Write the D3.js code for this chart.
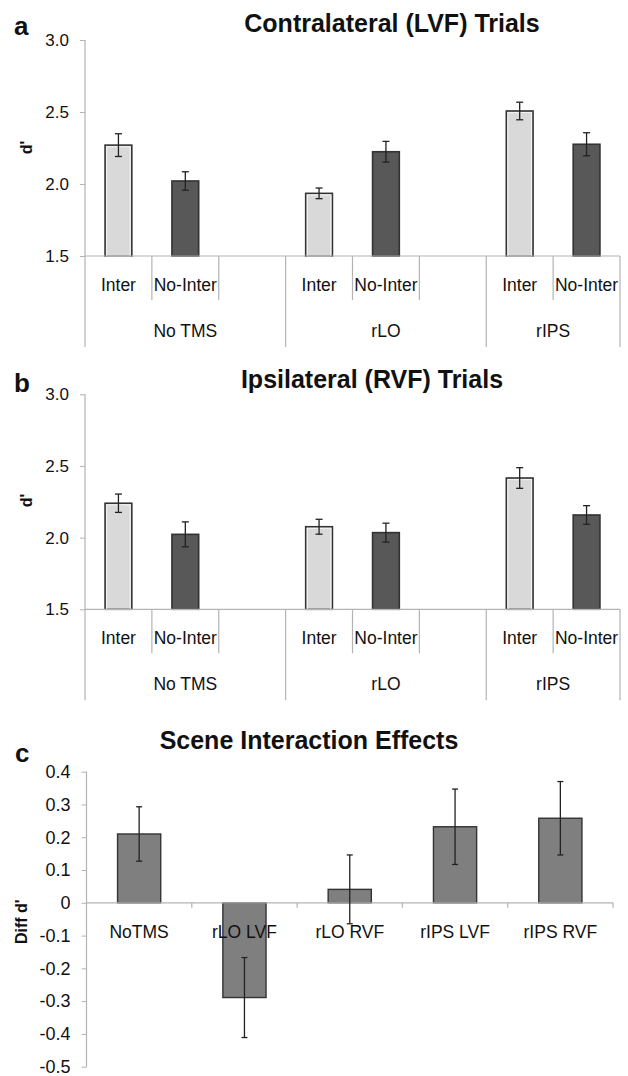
<!DOCTYPE html>
<html>
<head>
<meta charset="utf-8">
<script src="https://cdnjs.cloudflare.com/ajax/libs/d3/7.8.5/d3.min.js"></script>
<style>
  body { margin: 0; background: #fff; }
  text { font-family: "Liberation Sans", Arial, sans-serif; fill: #111; }
</style>
</head>
<body>
<div id="body"></div>
<script>
// panels a / b: groups and conditions
const groups = ["No TMS", "rLO", "rIPS"];
const conditions = ["Inter", "No-Inter"];

// Contralateral (LVF) trials
const contraInter = [2.27, 1.935, 2.507];
const contraInterErr = [0.079, 0.037, 0.061];
const contraNoInter = [2.021, 2.224, 2.276];
const contraNoInterErr = [0.064, 0.072, 0.08];

// Ipsilateral (RVF) trials
const ipsiInter = [2.24, 2.076, 2.416];
const ipsiInterErr = [0.064, 0.052, 0.072];
const ipsiNoInter = [2.023, 2.035, 2.158];
const ipsiNoInterErr = [0.087, 0.066, 0.065];

const dTicks = [1.5, 2.0, 2.5, 3.0];

// panel c
const effectLabels = ["NoTMS", "rLO LVF", "rLO RVF", "rIPS LVF", "rIPS RVF"];
const effectValues = [0.21, -0.289, 0.041, 0.232, 0.258];
const effectErr = [0.083, 0.122, 0.105, 0.115, 0.112];
const diffTicks = [-0.5, -0.4, -0.3, -0.2, -0.1, 0, 0.1, 0.2, 0.3, 0.4];

const W = 628, H = 1076;
const axisGray = "#b3b3b3";
const svg = d3.select("#body").append("svg").attr("width", W).attr("height", H);

function panelLetter(letter, x, y) {
	svg.append("text").attr("x", x).attr("y", y)
		.attr("font-size", 26).attr("font-weight", "bold").attr("fill", "#000").text(letter);
}
function panelTitle(title, cx, y) {
	svg.append("text").attr("x", cx).attr("y", y).attr("text-anchor", "middle")
		.attr("font-size", 25).attr("font-weight", "bold").attr("fill", "#111").text(title);
}
function yTitle(label, x, cy) {
	svg.append("text").attr("transform", "translate(" + x + "," + cy + ") rotate(-90)")
		.attr("text-anchor", "middle").attr("font-size", 16).attr("font-weight", "bold")
		.attr("fill", "#111").text(label);
}
function yAxis(scale, ticks, fmt, fontSize, x) {
	var g = svg.append("g").attr("transform", "translate(" + x + ",0)")
		.call(d3.axisLeft(scale).tickValues(ticks).tickFormat(fmt).tickSize(5).tickPadding(11));
	g.select(".domain").remove();
	g.selectAll(".tick line").attr("stroke", axisGray);
	g.selectAll(".tick text").attr("font-size", fontSize).attr("font-family", "Liberation Sans, Arial, sans-serif").attr("fill", "#111");
	return g;
}

// ---- panels a and b ----
function groupedPanel(opt) {
	var y = d3.scaleLinear().domain([1.5, 3.0]).range([opt.bottom, opt.top]);
	// 3 slots per group (Inter, No-Inter, blank); last group without the blank
	var x = d3.scaleBand().domain(d3.range(8)).range([85, 620]).paddingInner(0);
	var bw = x.bandwidth() * 0.4;
	var rows = [];
	groups.forEach(function(gname, gi) {
		rows.push({slot: gi * 3, cond: 0, v: opt.inter[gi], e: opt.interErr[gi]});
		rows.push({slot: gi * 3 + 1, cond: 1, v: opt.noInter[gi], e: opt.noInterErr[gi]});
	});

	panelLetter(opt.letter, 14, opt.letterY);
	panelTitle(opt.title, opt.titleX, opt.titleY);
	yTitle("d'", 32, opt.yTitleY);

	var minorEnd = y(1.5) + 44, majorEnd = y(1.5) + 91;
	// y axis line (runs down to bottom of category lines)
	svg.append("line").attr("x1", 85).attr("x2", 85).attr("y1", y(3.0)).attr("y2", majorEnd)
		.attr("stroke", axisGray).attr("stroke-width", 1.2);
	yAxis(y, dTicks, d3.format(".1f"), 17, 85);

	// bars
	var bars = svg.append("g");
	bars.selectAll("rect.bar").data(rows).enter().append("rect").attr("class", "bar")
		.attr("x", d => x(d.slot) + (x.bandwidth() - bw) / 2)
		.attr("y", d => y(d.v))
		.attr("width", bw)
		.attr("height", d => y(1.5) - y(d.v))
		.attr("fill", d => d.cond === 0 ? "#d9d9d9" : "#585858")
		.attr("stroke", "#333").attr("stroke-width", 1.6);
	bars.selectAll("rect.inner").data(rows.filter(d => d.cond === 0)).enter().append("rect").attr("class", "inner")
		.attr("x", d => x(d.slot) + (x.bandwidth() - bw) / 2 + 1.6)
		.attr("y", d => y(d.v) + 1.6)
		.attr("width", bw - 3.2)
		.attr("height", d => y(1.5) - y(d.v) - 1.6)
		.attr("fill", "none").attr("stroke", "#f4f4f4").attr("stroke-width", 1);

	// error bars
	var eb = svg.append("g").attr("stroke", "#222").attr("stroke-width", 1.3);
	rows.forEach(function(d) {
		var cx = x(d.slot) + x.bandwidth() / 2;
		eb.append("line").attr("x1", cx).attr("x2", cx).attr("y1", y(d.v + d.e)).attr("y2", y(d.v - d.e));
		eb.append("line").attr("x1", cx - 3.5).attr("x2", cx + 3.5).attr("y1", y(d.v + d.e)).attr("y2", y(d.v + d.e));
		eb.append("line").attr("x1", cx - 3.5).attr("x2", cx + 3.5).attr("y1", y(d.v - d.e)).attr("y2", y(d.v - d.e));
	});

	// x axis line and category separators
	svg.append("line").attr("x1", 85).attr("x2", 620).attr("y1", y(1.5)).attr("y2", y(1.5))
		.attr("stroke", axisGray).attr("stroke-width", 1.2);
	var bounds = d3.range(1, 9);
	svg.selectAll(null).data(bounds).enter().append("line")
		.attr("x1", d => d === 8 ? x(7) + x.bandwidth() : x(d))
		.attr("x2", d => d === 8 ? x(7) + x.bandwidth() : x(d))
		.attr("y1", y(1.5))
		.attr("y2", d => (d % 3 === 0 || d === 8) ? majorEnd : minorEnd)
		.attr("stroke", axisGray).attr("stroke-width", 1.2);

	// condition labels
	svg.selectAll(null).data(rows).enter().append("text")
		.attr("x", d => x(d.slot) + x.bandwidth() / 2)
		.attr("y", y(1.5) + 35)
		.attr("text-anchor", "middle").attr("font-size", 17.5)
		.text(d => conditions[d.cond]);
	// group labels
	svg.selectAll(null).data(groups).enter().append("text")
		.attr("x", (d, i) => {
			var x0 = x(i * 3), x1 = i === 2 ? x(7) + x.bandwidth() : x(i * 3 + 3);
			return (x0 + x1) / 2;
		})
		.attr("y", y(1.5) + 81)
		.attr("text-anchor", "middle").attr("font-size", 17.5)
		.text(d => d);
}

groupedPanel({
	letter: "a", letterY: 35, title: "Contralateral (LVF) Trials", titleX: 392, titleY: 31.5,
	yTitleY: 147.5, top: 40, bottom: 256,
	inter: contraInter, interErr: contraInterErr, noInter: contraNoInter, noInterErr: contraNoInterErr
});
groupedPanel({
	letter: "b", letterY: 391.5, title: "Ipsilateral (RVF) Trials", titleX: 372, titleY: 388,
	yTitleY: 500.5, top: 394.3, bottom: 609.3,
	inter: ipsiInter, interErr: ipsiInterErr, noInter: ipsiNoInter, noInterErr: ipsiNoInterErr
});

// ---- panel c ----
(function() {
	var y = d3.scaleLinear().domain([-0.5, 0.4]).range([1066.7, 771.7]);
	var x = d3.scaleBand().domain(effectLabels).range([86.5, 613]).paddingInner(0);
	var bw = x.bandwidth() * 0.41;

	panelLetter("c", 15, 762);
	panelTitle("Scene Interaction Effects", 309, 748.5);
	yTitle("Diff d'", 27, 921.7);

	svg.append("line").attr("x1", 86.5).attr("x2", 86.5).attr("y1", y(0.4)).attr("y2", y(-0.5))
		.attr("stroke", axisGray).attr("stroke-width", 1.2);
	yAxis(y, diffTicks, d => d === 0 ? "0" : d.toFixed(1), 18, 86.5);

	svg.selectAll("rect.eff").data(effectLabels).enter().append("rect").attr("class", "eff")
		.attr("x", d => x(d) + (x.bandwidth() - bw) / 2)
		.attr("y", (d, i) => y(Math.max(0, effectValues[i])))
		.attr("width", bw)
		.attr("height", (d, i) => Math.abs(y(effectValues[i]) - y(0)))
		.attr("fill", "#7f7f7f").attr("stroke", "#333").attr("stroke-width", 1.4);

	// zero axis with small ticks
	svg.append("line").attr("x1", 86.5).attr("x2", 613).attr("y1", y(0)).attr("y2", y(0))
		.attr("stroke", axisGray).attr("stroke-width", 1.2);
	svg.selectAll(null).data(effectLabels).enter().append("line")
		.attr("x1", d => x(d) + x.bandwidth()).attr("x2", d => x(d) + x.bandwidth())
		.attr("y1", y(0)).attr("y2", y(0) + 5)
		.attr("stroke", axisGray).attr("stroke-width", 1.2);

	var eb = svg.append("g").attr("stroke", "#222").attr("stroke-width", 1.3);
	effectLabels.forEach(function(d, i) {
		var cx = x(d) + x.bandwidth() / 2, v = effectValues[i], e = effectErr[i];
		eb.append("line").attr("x1", cx).attr("x2", cx).attr("y1", y(v + e)).attr("y2", y(v - e));
		eb.append("line").attr("x1", cx - 3).attr("x2", cx + 3).attr("y1", y(v + e)).attr("y2", y(v + e));
		eb.append("line").attr("x1", cx - 3).attr("x2", cx + 3).attr("y1", y(v - e)).attr("y2", y(v - e));
	});

	svg.selectAll(null).data(effectLabels).enter().append("text")
		.attr("x", d => x(d) + x.bandwidth() / 2)
		.attr("y", 938)
		.attr("text-anchor", "middle").attr("font-size", 17.5)
		.text(d => d);
})();
</script>
</body>
</html>
